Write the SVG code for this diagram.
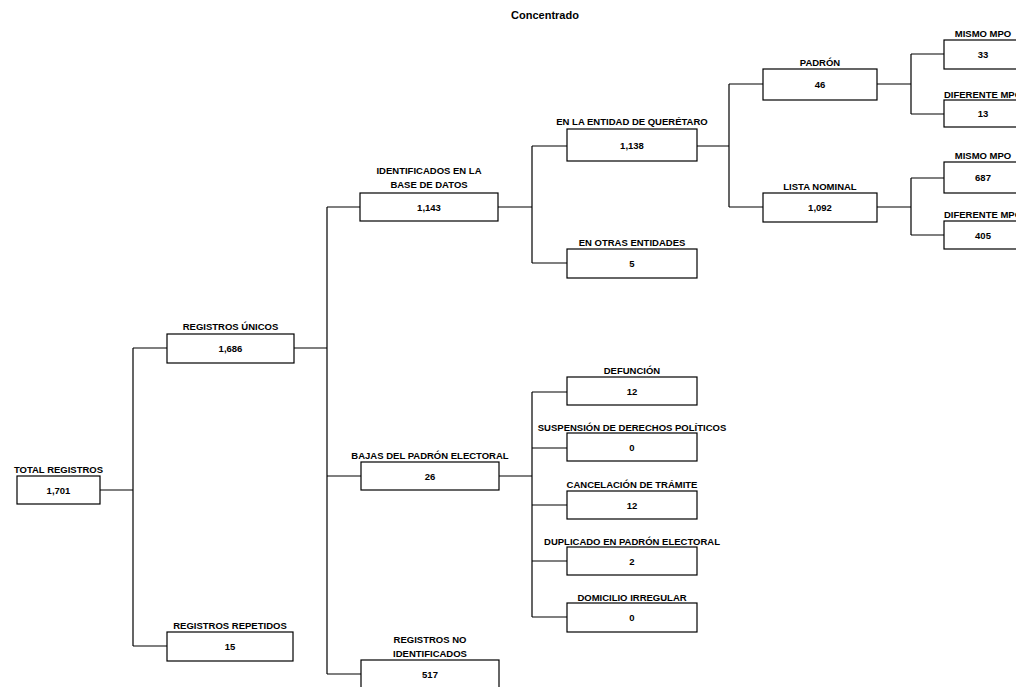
<svg xmlns="http://www.w3.org/2000/svg" width="1016" height="687" viewBox="0 0 1016 687">
<style>
.box{fill:#fff;stroke:#000;stroke-width:1.2}
.t{font-family:"Liberation Sans",Arial,sans-serif;font-weight:bold;font-size:9.5px;text-anchor:middle;fill:#000}
.title{font-family:"Liberation Sans",Arial,sans-serif;font-weight:bold;font-size:11px;text-anchor:middle;fill:#000}
.c{fill:none;stroke:#000;stroke-width:1.2}
</style>
<rect width="1016" height="687" fill="#fff"/>
<text class="title" x="545" y="19">Concentrado</text>
<g id="connectors">
<path class="c" d="M100 490H133M133 348V646M133 348H167M133 646H167"/>
<path class="c" d="M294 348H327M327 207V674M327 207H360M327 476H361M327 674H361"/>
<path class="c" d="M498 207H532M532 146V263M532 146H567M532 263H567"/>
<path class="c" d="M697 146H729M729 84V207M729 84H763M729 207H763"/>
<path class="c" d="M877 84H911M911 54V114M911 54H944M911 114H944"/>
<path class="c" d="M877 207H911M911 178V235M911 178H944M911 235H944"/>
<path class="c" d="M499 476H532M532 392V617M532 392H567M532 448H567M532 505H567M532 561H567M532 617H567"/>
</g>
<g id="n-total"><rect class="box" x="17" y="476" width="83" height="28"/><text class="t" x="58.5" y="472.5">TOTAL REGISTROS</text><text class="t" x="58.5" y="493.5">1,701</text></g>
<g id="n-unicos"><rect class="box" x="167" y="334" width="127" height="29"/><text class="t" x="230.5" y="329.5">REGISTROS ÚNICOS</text><text class="t" x="230.5" y="351.5">1,686</text></g>
<g id="n-repetidos"><rect class="box" x="167" y="632" width="126" height="29"/><text class="t" x="230" y="628.5">REGISTROS REPETIDOS</text><text class="t" x="230" y="649.5">15</text></g>
<g id="n-identificados"><rect class="box" x="360" y="193" width="138" height="28"/><text class="t" x="429" y="174">IDENTIFICADOS EN LA</text><text class="t" x="429" y="188">BASE DE DATOS</text><text class="t" x="429" y="210.5">1,143</text></g>
<g id="n-bajas"><rect class="box" x="361" y="462" width="138" height="28"/><text class="t" x="430" y="458.5">BAJAS DEL PADRÓN ELECTORAL</text><text class="t" x="430" y="479.5">26</text></g>
<g id="n-noident"><rect class="box" x="361" y="660" width="138" height="30"/><text class="t" x="430" y="642.5">REGISTROS NO</text><text class="t" x="430" y="656.5">IDENTIFICADOS</text><text class="t" x="430" y="677.5">517</text></g>
<g id="n-queretaro"><rect class="box" x="567" y="129" width="130" height="32"/><text class="t" x="632" y="124.5">EN LA ENTIDAD DE QUERÉTARO</text><text class="t" x="632" y="148.5">1,138</text></g>
<g id="n-otras"><rect class="box" x="567" y="249" width="130" height="29"/><text class="t" x="632" y="245.5">EN OTRAS ENTIDADES</text><text class="t" x="632" y="266.5">5</text></g>
<g id="n-padron"><rect class="box" x="763" y="69" width="114" height="31"/><text class="t" x="820" y="65.5">PADRÓN</text><text class="t" x="820" y="87.5">46</text></g>
<g id="n-lista"><rect class="box" x="763" y="193" width="114" height="29"/><text class="t" x="820" y="189.5">LISTA NOMINAL</text><text class="t" x="820" y="210.5">1,092</text></g>
<g id="n-mismo1"><rect class="box" x="944" y="40" width="78" height="29"/><text class="t" x="983" y="36.5">MISMO MPO</text><text class="t" x="983" y="58">33</text></g>
<g id="n-dif1"><rect class="box" x="944" y="100" width="78" height="27"/><text class="t" x="983" y="97.5">DIFERENTE MPO</text><text class="t" x="983" y="116.5">13</text></g>
<g id="n-mismo2"><rect class="box" x="944" y="162" width="78" height="31"/><text class="t" x="983" y="158.5">MISMO MPO</text><text class="t" x="983" y="180.5">687</text></g>
<g id="n-dif2"><rect class="box" x="944" y="221" width="78" height="28"/><text class="t" x="983" y="217.5">DIFERENTE MPO</text><text class="t" x="983" y="238.5">405</text></g>
<g id="n-defuncion"><rect class="box" x="567" y="377" width="130" height="28"/><text class="t" x="632" y="373.5">DEFUNCIÓN</text><text class="t" x="632" y="394.5">12</text></g>
<g id="n-suspension"><rect class="box" x="567" y="433" width="130" height="28"/><text class="t" x="632" y="430.5">SUSPENSIÓN DE DERECHOS POLÍTICOS</text><text class="t" x="632" y="450.5">0</text></g>
<g id="n-cancelacion"><rect class="box" x="567" y="491" width="130" height="28"/><text class="t" x="632" y="487.5">CANCELACIÓN DE TRÁMITE</text><text class="t" x="632" y="508.5">12</text></g>
<g id="n-duplicado"><rect class="box" x="567" y="547" width="130" height="28"/><text class="t" x="632" y="544.5">DUPLICADO EN PADRÓN ELECTORAL</text><text class="t" x="632" y="564.5">2</text></g>
<g id="n-domicilio"><rect class="box" x="567" y="603" width="130" height="29"/><text class="t" x="632" y="600.5">DOMICILIO IRREGULAR</text><text class="t" x="632" y="620.5">0</text></g>
</svg>
